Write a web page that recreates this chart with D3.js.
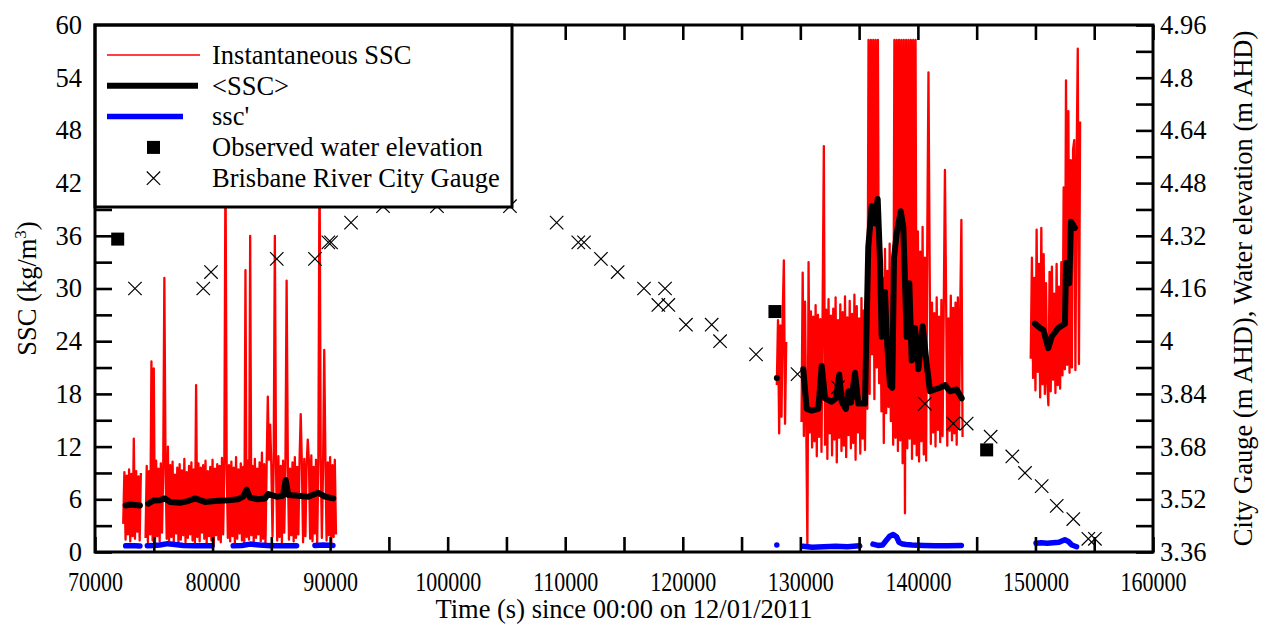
<!DOCTYPE html>
<html>
<head>
<meta charset="utf-8">
<script src="https://cdn.jsdelivr.net/npm/d3@7"></script>
<style>
  body { margin: 0; background: #fff; }
  text { font-family: "Liberation Serif", "Times New Roman", serif; fill: #000; }
</style>
</head>
<body>
<div id="chart"></div>
<script>
// ---- data ----
const xTicks = [70000, 80000, 90000, 100000, 110000, 120000, 130000, 140000, 150000, 160000];
const xMinorTicks = [75000, 85000, 95000, 105000, 115000, 125000, 135000, 145000, 155000];
const sscTicks = [0, 6, 12, 18, 24, 30, 36, 42, 48, 54, 60];
const sscMinorTicks = [3, 9, 15, 21, 27, 33, 39, 45, 51, 57];
const levelTicks = [3.36, 3.52, 3.68, 3.84, 4.0, 4.16, 4.32, 4.48, 4.64, 4.8, 4.96];
const levelTickLabels = ["3.36", "3.52", "3.68", "3.84", "4", "4.16", "4.32", "4.48", "4.64", "4.8", "4.96"];

// instantaneous SSC, one sample every 100 s, burst start times
const redStep = 100;
const redStarts = [72400, 74300, 128000, 130100, 149600];
const redSeg1a = [3.2, 9.1, 1.4, 8.7, 2.0, 9.4, 1.2, 8.9, 1.8, 12.9, 1.5, 9.2, 2.3, 8.6, 1.3, 9.0];
const redSeg1b = [
  1.6, 9.8, 1.1, 9.2, 2.0, 21.7, 1.3, 20.9, 0.9, 10.4,
  1.8, 9.5, 1.2, 10.1, 2.2, 9.0, 31.2, 9.7, 1.5, 12.0,
  1.0, 9.9, 1.7, 10.3, 1.2, 8.8, 2.1, 9.6, 0.8, 10.0,
  1.4, 9.3, 1.9, 10.6, 1.1, 9.1, 1.6, 9.8, 2.0, 10.2,
  1.3, 9.4, 0.9, 19.0, 1.7, 10.1, 1.2, 9.6, 2.2, 9.9,
  1.5, 10.4, 1.0, 9.2, 1.8, 9.7, 1.3, 10.5, 0.7, 9.5,
  1.9, 10.0, 1.4, 9.8, 1.1, 10.7, 2.0, 9.3, 45.0, 10.2,
  1.6, 9.9, 1.2, 10.3, 1.8, 9.6, 0.9, 10.8, 1.5, 9.4,
  2.1, 10.1, 1.3, 9.7, 1.0, 32.1, 1.7, 10.4, 1.4, 36.0,
  1.9, 9.8, 1.1, 10.6, 1.6, 9.5, 2.0, 10.2, 1.2, 11.3,
  1.5, 10.0, 0.8, 9.7, 17.7, 10.5, 14.5, 9.9, 1.8, 10.3,
  36.0, 9.6, 1.3, 10.9, 1.7, 9.8, 1.0, 10.4, 2.2, 9.9,
  30.9, 10.7, 1.4, 9.5, 1.9, 10.2, 1.2, 10.8, 1.6, 9.7,
  2.0, 10.4, 15.7, 9.9, 1.1, 10.6, 1.8, 9.8, 12.8, 10.3,
  1.5, 11.0, 1.2, 9.7, 2.1, 10.5, 0.9, 10.1, 45.0, 10.9,
  1.6, 9.8, 23.0, 10.6, 1.3, 10.2, 1.9, 10.8, 1.0, 9.9,
  1.7, 10.5, 2.0
];
const redSeg2 = [19.0, 26.4, 13.5, 25.8, 15.4, 27.0, 33.2, 14.6, 23.9];
const redSeg3 = [
  14.8, 31.8, 13.2, 28.5, 15.0, 0.8, 33.0, 13.6, 27.4, 11.9,
  26.8, 12.6, 28.1, 10.9, 27.0, 13.1, 26.5, 11.4, 28.3, 46.2,
  12.2, 27.6, 10.6, 28.8, 13.5, 26.9, 11.0, 27.7, 12.8, 29.0,
  10.2, 26.4, 13.0, 28.2, 11.5, 27.3, 12.1, 29.1, 10.8, 26.7,
  13.3, 28.6, 11.8, 27.1, 12.4, 29.3, 10.5, 28.0, 13.6, 26.6,
  11.2, 28.9, 12.9, 27.5, 11.6, 29.4, 16.3, 58.3, 18.0, 58.3,
  22.5, 58.3, 17.4, 58.3, 21.0, 58.3, 19.2, 33.4, 16.0, 31.2,
  12.4, 34.5, 15.8, 32.0, 16.5, 35.1, 14.9, 31.6, 12.2, 58.3,
  13.0, 58.3, 11.5, 58.3, 12.7, 58.3, 10.1, 58.3, 4.4, 58.3,
  11.8, 58.3, 12.9, 58.3, 10.6, 58.3, 12.3, 58.3, 11.0, 36.5,
  10.3, 34.2, 12.6, 37.0, 11.1, 33.5, 10.4, 35.8, 54.6, 32.9,
  12.3, 28.4, 13.6, 27.2, 12.0, 29.0, 13.9, 26.8, 12.5, 28.7,
  13.2, 27.5, 43.5, 28.9, 12.1, 26.6, 13.8, 29.2, 12.7, 27.8,
  13.5, 28.4, 12.2, 29.0, 14.0, 27.1, 37.8, 13.1
];
const redSeg4 = [
  22.0, 33.5, 19.8, 31.2, 18.4, 36.7, 20.5, 32.8, 17.6, 36.9,
  19.1, 33.9, 18.0, 30.6, 19.4, 16.7, 31.9, 18.3, 32.5, 19.6,
  29.4, 18.1, 32.8, 19.0, 30.2, 18.6, 33.0, 20.1, 41.5, 20.8,
  53.7, 21.3, 50.2, 20.4, 44.6, 21.0, 45.8, 46.9, 20.7, 44.2,
  57.3, 21.4, 49.0
];
const redSegments = [redSeg1a, redSeg1b, redSeg2, redSeg3, redSeg4];

// <SSC> running mean, [time s, kg/m3]
const meanSeg1a = [[72610, 5.3], [73000, 5.4], [73400, 5.35], [73820, 5.3]];
const meanSeg1b = [[74530, 5.5], [74960, 5.85], [75530, 5.9], [75950, 6.1], [76380, 5.7], [77230, 5.6],
  [77910, 5.8], [78510, 6.1], [79360, 5.7], [80210, 5.8], [81340, 5.9], [82160, 6.0], [82610, 6.3],
  [82900, 7.1], [83180, 6.2], [83870, 6.0], [84460, 6.1], [84740, 6.6], [85460, 6.3], [85990, 6.4],
  [86220, 8.2], [86440, 6.5], [87270, 6.4], [88140, 6.3], [88990, 6.75], [89560, 6.3], [90270, 6.1]];
const meanSeg2 = [[128000, 19.8]];
const meanSeg3 = [[130250, 20.8], [130540, 16.3], [130970, 16.1], [131530, 16.3], [131820, 21.2],
  [132100, 17.5], [132670, 17.1], [133030, 17.5], [133310, 20.2], [133520, 17.1], [133880, 16.3],
  [134080, 18.3], [134310, 17.0], [134650, 20.4], [134930, 16.9], [135500, 16.9], [135780, 34.7],
  [136070, 39.4], [136350, 37.4], [136580, 40.2], [136780, 33.1], [136920, 24.5], [137200, 29.6],
  [137350, 24.5], [137630, 19.0], [137820, 18.7], [137970, 33.5], [138200, 36.3], [138540, 38.8],
  [138760, 37.0], [139050, 24.5], [139270, 30.6], [139470, 21.8], [139760, 25.5], [140040, 20.8],
  [140410, 25.7], [140750, 21.4], [141030, 18.3], [141880, 18.7], [142310, 19.0], [142730, 18.3],
  [143300, 18.5], [143730, 17.5]];
const meanSeg4 = [[149960, 26.0], [150390, 25.5], [150670, 25.3], [151090, 23.2], [151380, 24.5],
  [151940, 25.5], [152510, 26.0], [152600, 32.9], [152880, 30.6], [153020, 37.6], [153360, 36.9]];
const meanSegments = [meanSeg1a, meanSeg1b, meanSeg2, meanSeg3, meanSeg4];

// ssc' fluctuation
const primeSegments = [
  [[72610, 0.7], [73000, 0.72], [73400, 0.7], [73820, 0.68]],
  [[74450, 0.7], [75000, 0.75], [75500, 0.8], [76200, 0.95], [76800, 0.85], [77500, 0.75], [78500, 0.7], [79300, 0.72], [79950, 0.7]],
  [[81760, 0.7], [82500, 0.75], [83200, 0.9], [84000, 0.8], [85000, 0.72], [86000, 0.7], [87150, 0.7]],
  [[88710, 0.75], [89400, 0.8], [90240, 0.75]],
  [[128000, 0.8]],
  [[130230, 0.65], [131000, 0.55], [132000, 0.6], [133000, 0.65], [134000, 0.6], [135050, 0.7]],
  [[136180, 0.9], [136600, 0.75], [137000, 0.8], [137300, 1.3], [137600, 1.8], [137900, 2.0], [138200, 1.7],
   [138400, 1.1], [138700, 0.9], [139000, 0.85], [139500, 0.8], [140500, 0.75], [141500, 0.7], [142500, 0.7], [143700, 0.75]],
  [[150050, 1.0], [150500, 1.05], [151000, 1.0], [151500, 1.05], [152000, 1.1], [152500, 1.4], [152800, 1.2], [153100, 0.8], [153500, 0.6]]
];

// observed water elevation (m AHD)
const obsTime = [71930, 127840, 145850];
const obsLevel = [4.31, 4.09, 3.67];

// Brisbane River City Gauge (m AHD)
const gaugeTime = [73400, 79210, 79870, 85460, 88710, 89850, 90080, 91780, 94500, 99090, 105300,
  109270, 111110, 111600, 113040, 114460, 116700, 118490, 117920, 118770, 120270, 122460, 123170,
  126230, 129760, 133200, 140600, 143010, 144150, 146190, 148030, 149110, 150530, 151810, 153220,
  154500, 155060];
const gaugeLevel = [4.16, 4.16, 4.21, 4.25, 4.25, 4.30, 4.30, 4.36, 4.41, 4.41, 4.41,
  4.36, 4.30, 4.30, 4.25, 4.21, 4.16, 4.16, 4.11, 4.11, 4.05, 4.05, 4.00,
  3.96, 3.90, 3.86, 3.81, 3.75, 3.75, 3.71, 3.65, 3.60, 3.56, 3.50, 3.46,
  3.40, 3.40];

// ---- layout ----
const W = 1266, H = 626;
const mLeft = 95, mRight = 1153, mTop = 25, mBottom = 552;

const svg = d3.select("#chart").append("svg")
  .attr("width", W).attr("height", H);

const x = d3.scaleLinear().domain([70000, 160000]).range([mLeft, mRight]);
const yL = d3.scaleLinear().domain([0, 60]).range([mBottom, mTop]);
const yR = d3.scaleLinear().domain([3.36, 4.96]).range([mBottom, mTop]);

svg.append("clipPath").attr("id", "plot")
  .append("rect").attr("x", mLeft).attr("y", mTop).attr("width", mRight - mLeft).attr("height", mBottom - mTop);

const plot = svg.append("g").attr("clip-path", "url(#plot)");

const line = d3.line().x(d => x(d[0])).y(d => yL(d[1]));

// red instantaneous
const redData = redSegments.map((vals, k) => vals.map((v, i) => [redStarts[k] + i * redStep, v]));
plot.selectAll(".red").data(redData).join("path")
  .attr("class", "red")
  .attr("d", line)
  .attr("fill", "none").attr("stroke", "#ff0000")
  .attr("stroke-width", 2.3).attr("stroke-linejoin", "round");

// black mean
plot.selectAll(".mean").data(meanSegments).join("path")
  .attr("class", "mean")
  .attr("d", d => d.length === 1 ? `M${x(d[0][0])},${yL(d[0][1])}Z` : line(d))
  .attr("fill", "none").attr("stroke", "#000")
  .attr("stroke-width", 6).attr("stroke-linejoin", "round").attr("stroke-linecap", "round");

// blue ssc'
plot.selectAll(".prime").data(primeSegments).join("path")
  .attr("class", "prime")
  .attr("d", d => d.length === 1 ? `M${x(d[0][0])},${yL(d[0][1])}Z` : line(d))
  .attr("fill", "none").attr("stroke", "#0000ff")
  .attr("stroke-width", 5.5).attr("stroke-linejoin", "round").attr("stroke-linecap", "round");

// squares
plot.selectAll(".obs").data(obsTime).join("rect")
  .attr("class", "obs")
  .attr("x", (d) => x(d) - 6.5)
  .attr("y", (d, i) => yR(obsLevel[i]) - 6.5)
  .attr("width", 13).attr("height", 13).attr("fill", "#000");

// crosses
const cross = "M-6.7,-6.7L6.7,6.7M-6.7,6.7L6.7,-6.7";
plot.selectAll(".gauge").data(gaugeTime).join("path")
  .attr("class", "gauge")
  .attr("transform", (d, i) => `translate(${x(d)},${yR(gaugeLevel[i])})`)
  .attr("d", cross)
  .attr("fill", "none").attr("stroke", "#000").attr("stroke-width", 1.2);

// ---- axes ----
const fs = 26.5;
function styleAxis(g) {
  g.attr("font-family", null);
  g.select(".domain").remove();
  g.selectAll(".tick line").attr("stroke", "#000").attr("stroke-width", 2.6);
  g.selectAll(".tick text").attr("font-size", fs);
}

// x labels are drawn narrow in the original
svg.append("g").attr("transform", `translate(0,${mBottom})`)
  .call(d3.axisBottom(x).tickValues(xTicks).tickSize(-15).tickPadding(20).tickFormat(d3.format("d")))
  .call(styleAxis)
  .call(g => g.selectAll(".tick text").attr("transform", "scale(0.83,1)"));
svg.append("g").attr("transform", `translate(0,${mBottom})`)
  .call(d3.axisBottom(x).tickValues(xMinorTicks).tickSize(-15).tickFormat(""))
  .call(styleAxis);
svg.append("g").attr("transform", `translate(0,${mTop})`)
  .call(d3.axisTop(x).tickValues(xTicks.concat(xMinorTicks)).tickSize(-15).tickFormat(""))
  .call(styleAxis);

svg.append("g").attr("transform", `translate(${mLeft},0)`)
  .call(d3.axisLeft(yL).tickValues(sscTicks).tickSize(-17).tickPadding(13))
  .call(styleAxis);
svg.append("g").attr("transform", `translate(${mLeft},0)`)
  .call(d3.axisLeft(yL).tickValues(sscMinorTicks).tickSize(-17).tickFormat(""))
  .call(styleAxis);

svg.append("g").attr("transform", `translate(${mRight},0)`)
  .call(d3.axisRight(yR).tickValues(levelTicks).tickSize(-17).tickPadding(7)
    .tickFormat((d, i) => levelTickLabels[i]))
  .call(styleAxis);
svg.append("g").attr("transform", `translate(${mRight},0)`)
  .call(d3.axisRight(yR).tickValues(sscMinorTicks.map(v => yR.invert(yL(v)))).tickSize(-17).tickFormat(""))
  .call(styleAxis);

// ---- legend ----
const leg = svg.append("g");
leg.append("rect").attr("x", mLeft).attr("y", mTop).attr("width", 417).attr("height", 182)
  .attr("fill", "#fff").attr("stroke", "none");

const legendRows = [
  { label: "Instantaneous SSC", kind: "line", color: "#ff0000", w: 1.5, x2: 200 },
  { label: "<SSC>", kind: "line", color: "#000", w: 6, x2: 198 },
  { label: "ssc'", kind: "line", color: "#0000ff", w: 5.5, x2: 183 },
  { label: "Observed water elevation", kind: "square" },
  { label: "Brisbane River City Gauge", kind: "cross" }
];
legendRows.forEach((r, i) => {
  const cy = 55 + i * 30.8;
  if (r.kind === "line") {
    leg.append("line").attr("x1", 107).attr("x2", r.x2).attr("y1", cy).attr("y2", cy)
      .attr("stroke", r.color).attr("stroke-width", r.w);
  } else if (r.kind === "square") {
    leg.append("rect").attr("x", 147).attr("y", cy - 6.5).attr("width", 13).attr("height", 13).attr("fill", "#000");
  } else {
    leg.append("path").attr("transform", `translate(153.5,${cy})`).attr("d", cross)
      .attr("fill", "none").attr("stroke", "#000").attr("stroke-width", 1.2);
  }
  leg.append("text").attr("x", 212).attr("y", cy).attr("dy", "0.33em")
    .attr("font-size", fs).text(r.label);
});
leg.append("rect").attr("x", mLeft).attr("y", mTop).attr("width", 417).attr("height", 182)
  .attr("fill", "none").attr("stroke", "#000").attr("stroke-width", 3);

// frame
svg.append("rect").attr("x", mLeft).attr("y", mTop).attr("width", mRight - mLeft).attr("height", mBottom - mTop)
  .attr("fill", "none").attr("stroke", "#000").attr("stroke-width", 3);

// ---- titles ----
svg.append("text").attr("x", (mLeft + mRight) / 2).attr("y", 618).attr("text-anchor", "middle")
  .attr("font-size", fs).text("Time (s) since 00:00 on 12/01/2011");

const yt = svg.append("text").attr("transform", `translate(36,${(mTop + mBottom) / 2}) rotate(-90)`)
  .attr("text-anchor", "middle").attr("font-size", fs);
yt.append("tspan").text("SSC (kg/m");
yt.append("tspan").attr("font-size", 17).attr("dy", -10).text("3");
yt.append("tspan").attr("dy", 10).text(")");

svg.append("text").attr("transform", `translate(1252,${(mTop + mBottom) / 2}) rotate(-90)`)
  .attr("text-anchor", "middle").attr("font-size", fs)
  .text("City Gauge (m AHD), Water elevation (m AHD)");
</script>
</body>
</html>
